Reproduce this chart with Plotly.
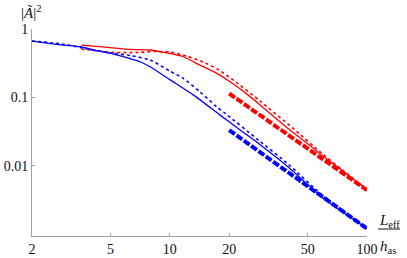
import math
import plotly.graph_objects as go

# ---- data ----
blue_solid_x = [2, 2.88, 3.51, 4.26, 5.17, 6.29, 7.06, 7.94, 10, 13.2, 18, 22.8, 28.2, 40, 60, 100]
blue_solid_y = [0.667, 0.583, 0.551, 0.481, 0.430, 0.370, 0.332, 0.281, 0.182, 0.108, 0.0551, 0.0332, 0.0212, 0.0095, 0.00335, 0.00121]

blue_dot_x = [2, 2.9, 3.7, 4.3, 4.9, 6.3, 7.94, 10, 11.7, 14.2, 17.3, 19.1, 28.2, 40, 60, 100]
blue_dot_y = [0.667, 0.60, 0.52, 0.48, 0.45, 0.41, 0.352, 0.243, 0.19, 0.121, 0.0728, 0.0583, 0.0237, 0.0105, 0.0036, 0.00122]

red_solid_x = [3.57, 5.0, 6.29, 7.94, 9.3, 11.7, 14.2, 17.3, 20.2, 25, 30, 40, 48.6, 60, 75, 100]
red_solid_y = [0.583, 0.535, 0.504, 0.493, 0.455, 0.393, 0.297, 0.2245, 0.169, 0.108, 0.0697, 0.0347, 0.0224, 0.0138, 0.0085, 0.0045]

red_dot_x = [3.57, 4.3, 5.17, 6.3, 7.06, 8.3, 10, 12.2, 14.8, 17.4, 19.5, 22, 28.7, 41.8, 60, 75, 100]
red_dot_y = [0.51, 0.48, 0.456, 0.452, 0.455, 0.468, 0.461, 0.402, 0.329, 0.260, 0.209, 0.162, 0.0883, 0.0361, 0.0146, 0.0087, 0.0045]

red_dash_x = [20, 100]
red_dash_y = [0.114, 0.0044]
blue_dash_x = [20, 100]
blue_dash_y = [0.0332, 0.00121]

x_ticks = [2, 5, 10, 20, 50, 100]
x_ticklabels = ["2", "5", "10", "20", "50", "100"]
y_ticks = [0.01, 0.1, 1]
y_ticklabels = ["0.01", "0.1", "1"]

RED = "#ff0000"
BLUE = "#0000ff"

fig = go.Figure()
fig.add_trace(go.Scatter(x=red_dash_x, y=red_dash_y, mode="lines",
                         line=dict(color=RED, width=4, dash="7px,2px")))
fig.add_trace(go.Scatter(x=blue_dash_x, y=blue_dash_y, mode="lines",
                         line=dict(color=BLUE, width=4, dash="7px,2px")))
fig.add_trace(go.Scatter(x=red_solid_x, y=red_solid_y, mode="lines",
                         line=dict(color=RED, width=1.3, shape="spline", smoothing=0.6)))
fig.add_trace(go.Scatter(x=red_dot_x, y=red_dot_y, mode="lines",
                         line=dict(color=RED, width=1.6, dash="dot", shape="spline", smoothing=0.6)))
fig.add_trace(go.Scatter(x=blue_solid_x, y=blue_solid_y, mode="lines",
                         line=dict(color=BLUE, width=1.3, shape="spline", smoothing=0.6)))
fig.add_trace(go.Scatter(x=blue_dot_x, y=blue_dot_y, mode="lines",
                         line=dict(color=BLUE, width=1.6, dash="dot", shape="spline", smoothing=0.6)))

W, H = 407, 258
L, R, T, B = 32, 40, 29, 22
pw, ph = W - L - R, H - T - B

def px(xpix):
    return (xpix - L) / pw

def py(ypix):
    return (H - B - ypix) / ph

axis_col = "#a0a0a0"
SERIF = "Liberation Serif, Times New Roman, serif"
font = dict(family=SERIF, size=14, color="#111")

fig.update_layout(
    width=W, height=H,
    margin=dict(l=L, r=R, t=T, b=B, pad=0, autoexpand=False),
    paper_bgcolor="white", plot_bgcolor="white",
    showlegend=False,
    font=font,
    xaxis=dict(type="log", range=[math.log10(2), 2], tickvals=x_ticks, ticktext=x_ticklabels,
               showline=True, linecolor=axis_col, linewidth=1, ticks="inside", ticklen=3,
               tickcolor=axis_col, showgrid=False, zeroline=False, tickfont=font,
               automargin=False),
    yaxis=dict(type="log", range=[-3.026, 0], tickvals=y_ticks, ticktext=y_ticklabels,
               showline=True, linecolor=axis_col, linewidth=1, ticks="inside", ticklen=3,
               tickcolor=axis_col, showgrid=False, zeroline=False, tickfont=font,
               automargin=False),
)

tfont = dict(family=SERIF, size=15, color="#111")
fig.add_annotation(xref="paper", yref="paper", x=px(31), y=py(12),
                   text="|<i>Ã</i>|<sup>2</sup>", showarrow=False, font=tfont,
                   xanchor="center", yanchor="middle")
fig.add_annotation(xref="paper", yref="paper", x=px(389), y=py(221),
                   text="<i>L</i><sub>eff</sub>", showarrow=False, font=tfont,
                   xanchor="center", yanchor="middle")
fig.add_annotation(xref="paper", yref="paper", x=px(388), y=py(247),
                   text="<i>h</i><sub>as</sub>", showarrow=False, font=tfont,
                   xanchor="center", yanchor="middle")
fig.add_shape(type="line", xref="paper", yref="paper",
              x0=px(378), x1=px(400), y0=py(229), y1=py(229),
              line=dict(color="#111", width=1))

fig.write_html("out.html", config={"displayModeBar": False},
               post_script="document.body.style.margin='0';document.body.style.padding='0';document.body.style.overflow='hidden';")
